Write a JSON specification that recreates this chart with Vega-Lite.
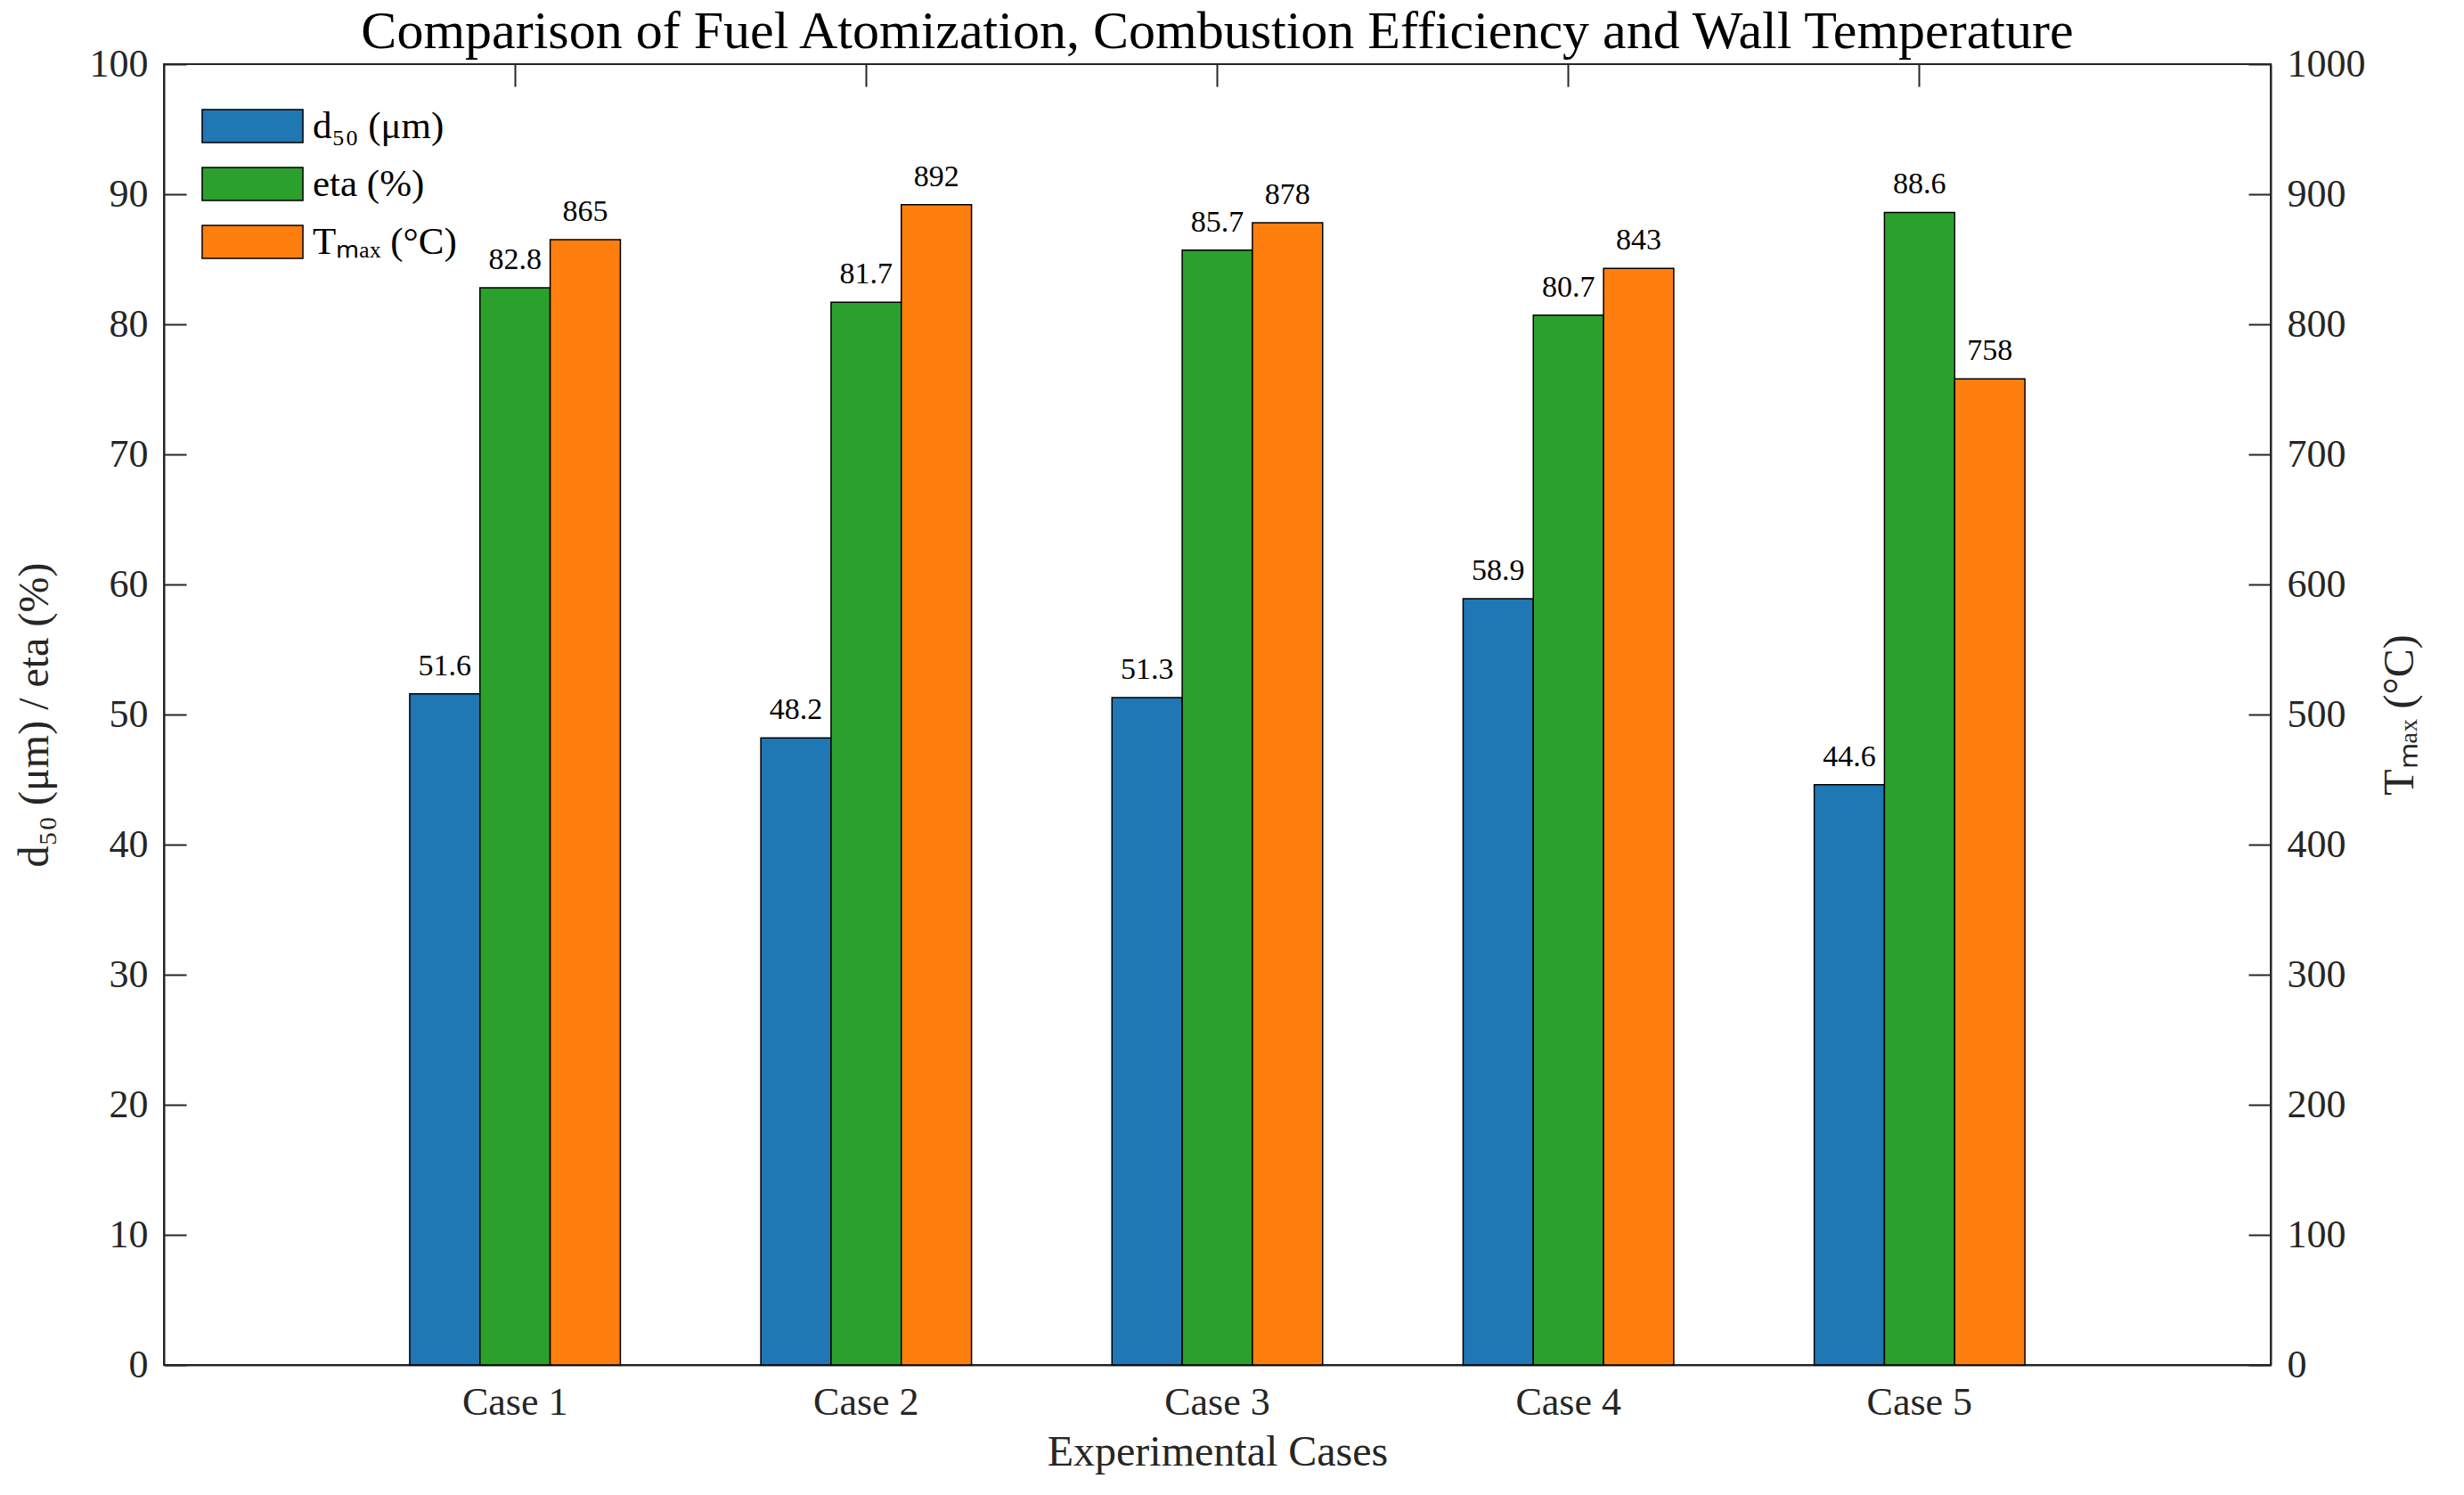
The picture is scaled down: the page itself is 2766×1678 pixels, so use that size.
{
  "$schema": "https://vega.github.io/schema/vega-lite/v6.json",
  "autosize": {"type": "none"},
  "padding": {"left": 184, "top": 72, "right": 217, "bottom": 146},
  "width": 2365,
  "height": 1460,
  "background": "white",
  "title": {
    "text": "Comparison of Fuel Atomization, Combustion Efficiency and Wall Temperature",
    "fontSize": 60,
    "fontWeight": "normal",
    "font": "Liberation Serif",
    "color": "black",
    "anchor": "middle",
    "offset": -17
  },
  "data": {
    "values": [
      {"case": "Case 1", "series": "d50", "value": 51.6},
      {"case": "Case 1", "series": "eta", "value": 82.8},
      {"case": "Case 1", "series": "Tmax", "value": 865},
      {"case": "Case 2", "series": "d50", "value": 48.2},
      {"case": "Case 2", "series": "eta", "value": 81.7},
      {"case": "Case 2", "series": "Tmax", "value": 892},
      {"case": "Case 3", "series": "d50", "value": 51.3},
      {"case": "Case 3", "series": "eta", "value": 85.7},
      {"case": "Case 3", "series": "Tmax", "value": 878},
      {"case": "Case 4", "series": "d50", "value": 58.9},
      {"case": "Case 4", "series": "eta", "value": 80.7},
      {"case": "Case 4", "series": "Tmax", "value": 843},
      {"case": "Case 5", "series": "d50", "value": 44.6},
      {"case": "Case 5", "series": "eta", "value": 88.6},
      {"case": "Case 5", "series": "Tmax", "value": 758}
    ]
  },
  "encoding": {
    "x": {
      "field": "case",
      "type": "nominal",
      "scale": {"paddingInner": 0, "paddingOuter": 0.5},
      "title": "Experimental Cases"
    },
    "xOffset": {
      "field": "series",
      "type": "nominal",
      "scale": {"domain": ["d50", "eta", "Tmax"], "paddingInner": 0, "paddingOuter": 1}
    }
  },
  "layer": [
    {
      "transform": [{"filter": "datum.series != 'Tmax'"}],
      "encoding": {
        "x": {
          "field": "case",
          "type": "nominal",
          "title": "Experimental Cases",
          "axis": {
            "orient": "bottom",
            "labelAngle": 0,
            "tickSize": -25,
            "labelPadding": 45,
            "titlePadding": 10
          }
        },
        "y": {
          "field": "value",
          "type": "quantitative",
          "scale": {"domain": [0, 100], "nice": false},
          "title": "d₅₀ (μm) / eta (%)",
          "axis": {
            "orient": "left",
            "values": [0, 10, 20, 30, 40, 50, 60, 70, 80, 90, 100],
            "tickSize": -25,
            "labelPadding": 43,
            "titlePadding": 37
          }
        }
      },
      "layer": [
        {
          "mark": {"type": "bar", "stroke": "black", "strokeWidth": 1.5},
          "encoding": {
            "color": {
              "field": "series",
              "type": "nominal",
              "scale": {
                "domain": ["d50", "eta", "Tmax"],
                "range": ["#1f77b4", "#2ca02c", "#ff7f0e"]
              },
              "legend": {
                "title": null,
                "orient": "none",
                "legendX": 78,
                "legendY": 48,
                "padding": 0,
                "labelExpr": "datum.label == 'd50' ? 'd₅₀ (μm)' : datum.label == 'eta' ? 'eta (%)' : 'Tₘₐₓ (°C)'",
                "labelFontSize": 43,
                "labelFont": "Liberation Serif",
                "labelColor": "black",
                "labelOffset": 46,
                "symbolType": "M-2.9,-0.95H2.9V0.95H-2.9Z",
                "symbolSize": 1521,
                "symbolStrokeColor": "black",
                "symbolStrokeWidth": 1.5,
                "symbolOpacity": 1,
                "rowPadding": 20,
                "labelLimit": 400
              }
            }
          }
        },
        {
          "mark": {"type": "text", "baseline": "alphabetic", "dy": -21, "fontSize": 34, "color": "black"},
          "encoding": {
            "text": {"field": "value", "type": "quantitative", "format": ".1f"}
          }
        }
      ]
    },
    {
      "transform": [{"filter": "datum.series == 'Tmax'"}],
      "encoding": {
        "x": {
          "field": "case",
          "type": "nominal",
          "axis": {
            "orient": "top",
            "labels": false,
            "title": null,
            "tickSize": -25,
            "domain": false
          }
        },
        "y": {
          "field": "value",
          "type": "quantitative",
          "scale": {"domain": [0, 1000], "nice": false},
          "title": "Tₘₐₓ (°C)",
          "axis": {
            "orient": "right",
            "values": [0, 100, 200, 300, 400, 500, 600, 700, 800, 900, 1000],
            "format": "d",
            "tickSize": -25,
            "labelPadding": 43,
            "titlePadding": 15,
            "titleAngle": 270,
            "titleBaseline": "top"
          }
        }
      },
      "layer": [
        {
          "mark": {"type": "bar", "stroke": "black", "strokeWidth": 1.5},
          "encoding": {
            "color": {"field": "series", "type": "nominal"}
          }
        },
        {
          "mark": {"type": "text", "baseline": "alphabetic", "dy": -21, "fontSize": 34, "color": "black"},
          "encoding": {
            "text": {"field": "value", "type": "quantitative", "format": "d"}
          }
        }
      ]
    }
  ],
  "resolve": {
    "scale": {"y": "independent"},
    "axis": {"x": "independent", "y": "independent"}
  },
  "config": {
    "font": "Liberation Serif",
    "view": {"stroke": "#262626", "strokeWidth": 2},
    "axis": {
      "grid": false,
      "domainColor": "#262626",
      "domainWidth": 2,
      "tickColor": "#262626",
      "tickWidth": 2,
      "labelFont": "Liberation Serif",
      "labelFontSize": 44,
      "labelColor": "#262626",
      "titleFont": "Liberation Serif",
      "titleFontSize": 48,
      "titleFontWeight": "normal",
      "titleColor": "#262626"
    }
  }
}
